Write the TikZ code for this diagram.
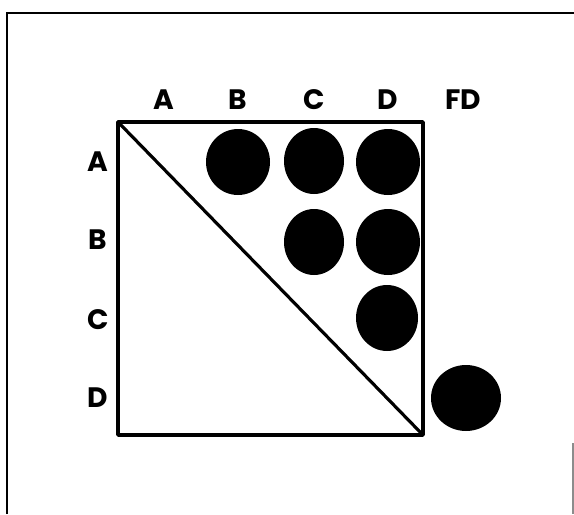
\documentclass[tikz,border=0pt]{standalone}
\usepackage{fontspec}
\setmainfont{Poppins}
\usepackage{tikz}
\usetikzlibrary{positioning}

\tikzset{
  lbl/.style={font=\fontsize{16}{18}\selectfont\bfseries, inner sep=0pt},
  dot/.style={fill=black},
}

\begin{document}
\begin{tikzpicture}[x=0.02cm,y=-0.02cm]
        \useasboundingbox (0,0) rectangle (574,514);
        % page frame
        \draw[line width=1.7pt] (7,514) -- (7,13) -- (574,13);
        \draw[black!45,line width=0.6pt] (573,443) -- (573,514);
        % matrix square and diagonal
        \draw[line width=2pt,line join=round] (118,122) rectangle (423,435);
        \draw[line width=1.8pt] (118,122) -- (423,435);
        % upper triangle entries
        \fill[dot] (238,162) ellipse [x radius=32, y radius=33];
        \fill[dot] (314,161) ellipse [x radius=30, y radius=33];
        \fill[dot] (388,162) ellipse [x radius=32, y radius=33];
        \fill[dot] (314,242) ellipse [x radius=30, y radius=33];
        \fill[dot] (388,242) ellipse [x radius=32, y radius=33];
        \fill[dot] (387,318) ellipse [x radius=31, y radius=33];
        \fill[dot] (466,398) ellipse [x radius=35, y radius=33];
        % column labels
        \node[lbl] (colA)  at (164,100) {A};
        \node[lbl] (colB)  at (238,100) {B};
        \node[lbl] (colC)  at (314,100) {C};
        \node[lbl] (colD)  at (388,100) {D};
        \node[lbl] (colFD) at (463,100) {FD};
        % row labels
        \node[lbl] (rowA) at (98,162) {A};
        \node[lbl] (rowB) at (98,240) {B};
        \node[lbl] (rowC) at (98,320) {C};
        \node[lbl] (rowD) at (98,398) {D};
      \end{tikzpicture}
\end{document}
